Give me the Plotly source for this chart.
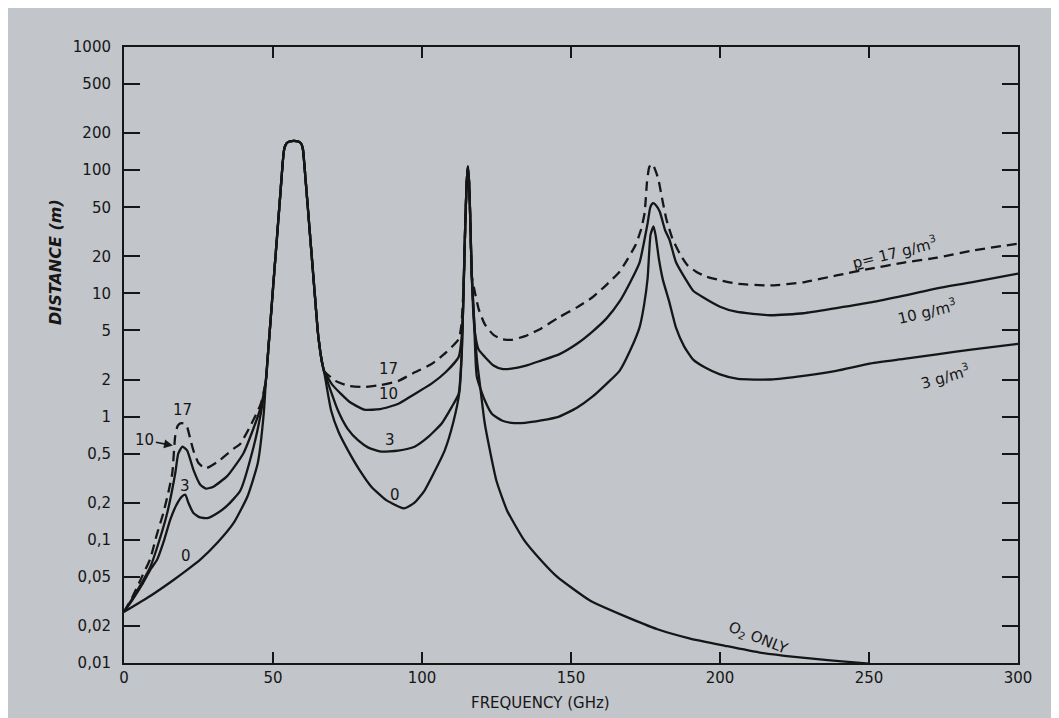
import plotly.graph_objects as go

# ---------------- data ----------------
freq_0 = [0, 8.8, 16.5, 21.2, 25.6, 31.4, 36.8, 41.5, 44.9, 46.9, 47.6, 48.5, 49.5, 50.5, 51.5, 52.5, 53.3, 53.8,
          54.5, 55.5, 57, 58.5, 59.4, 60, 61, 62, 63, 64, 65, 65.7, 66.4, 67.1,
          69.5, 72, 75.2, 79, 83, 88, 94, 97.5, 100.8, 104, 107.6, 110.5, 112.6,
          113.4, 114, 114.5, 115, 115.4, 115.8, 116.2, 116.7, 117.5, 118.5, 119.4, 121, 122.8, 125, 128.5,
          134.2, 140, 145.4, 156.5, 168, 179, 190, 201.7, 213, 225, 237, 250]
dist_0 = [0.026, 0.035, 0.047, 0.057, 0.069, 0.095, 0.137, 0.227, 0.42, 1.06, 1.95, 3.7, 7.6, 15.7, 32, 66, 118, 150,
          165, 171, 173, 171, 165, 150, 80, 40, 20, 10, 5.0, 3.6, 2.8, 2.35,
          1.12, 0.75, 0.53, 0.37, 0.27, 0.21, 0.18, 0.2, 0.25, 0.35, 0.53, 0.9, 1.62,
          3.5, 12, 35, 80, 107, 80, 40, 14, 6, 2.8, 1.85, 0.9, 0.53, 0.3, 0.174,
          0.1, 0.068, 0.05, 0.032, 0.024, 0.0188, 0.0158, 0.0138, 0.0122, 0.0112, 0.0105, 0.0099]

freq_3 = [0, 3, 6, 9, 11.1, 13.5, 15.5, 17.5, 19.5, 20.6, 21.6, 23.3, 25.5, 28, 31.4, 34.7, 39, 43.5, 45.9, 47.6,
          48.5, 49.5, 50.5, 51.5, 52.5, 53.3, 53.8, 54.5, 55.5, 57, 58.5, 59.4, 60, 61, 62, 63, 64, 65, 65.7, 66.4, 67.1,
          71.8, 75, 78.6, 82, 86.3, 92, 97.5, 102, 106.6, 110, 112.3,
          113.3, 114, 114.5, 115, 115.4, 115.8, 116.2, 116.7, 117.5, 118.4, 121.1, 123.5, 126.8, 130, 134.6, 140, 146,
          152, 157.2, 162, 166.3, 170, 173, 174.5, 175.7, 176.7, 177.7, 178.4, 179.5, 180.8, 183, 185.2, 188, 191,
          195, 200, 206, 217, 228, 239, 250.6, 261.7, 272.8, 284.3, 300]
dist_3 = [0.026, 0.033, 0.043, 0.058, 0.069, 0.1, 0.145, 0.19, 0.225, 0.232, 0.2, 0.165, 0.152, 0.15, 0.165, 0.19, 0.25, 0.57, 1.06, 1.95,
          3.7, 7.6, 15.7, 32, 66, 118, 150, 165, 171, 173, 171, 165, 150, 80, 40, 20, 10, 5.0, 3.6, 2.8, 2.35,
          1.12, 0.8, 0.64, 0.56, 0.52, 0.53, 0.57, 0.68, 0.88, 1.2, 1.53,
          3.2, 12, 35, 80, 107, 80, 40, 14, 6, 2.1, 1.35, 1.05, 0.93, 0.89, 0.89, 0.93, 1.0,
          1.18, 1.45, 1.85, 2.35, 3.5, 5.3, 8.0, 13.2, 30, 35, 29.5, 19, 13, 8.5, 5.3, 3.7, 2.9,
          2.5, 2.2, 2.02, 2.0, 2.14, 2.35, 2.7, 2.94, 3.2, 3.5, 3.9]

freq_10 = [0, 3, 6, 8.8, 11, 14.5, 17.2, 18.2, 19.6, 21.2, 23.3, 25.6, 27.5, 30, 34.7, 40, 43, 45.9, 47.6,
           48.5, 49.5, 50.5, 51.5, 52.5, 53.3, 53.8, 54.5, 55.5, 57, 58.5, 59.4, 60, 61, 62, 63, 64, 65, 65.7, 66.4, 67.1,
           70, 72.8, 76, 80.6, 86, 92.1, 97, 103.2, 108, 112.3,
           113.5, 114, 114.5, 115, 115.4, 115.8, 116.2, 116.7, 117.2, 117.7, 119, 121.1, 124, 126.8, 130, 134.6, 140, 146,
           152, 157.2, 162, 166.3, 170, 173, 175.7, 176.6, 177.5, 178.5, 179.8, 181.5, 183.1, 185.2, 188.5, 191,
           194.3, 200, 205.4, 216.9, 228, 239.1, 250.6, 261.7, 272.8, 284.3, 300]
dist_10 = [0.026, 0.034, 0.045, 0.06, 0.085, 0.165, 0.347, 0.5, 0.57, 0.53, 0.37, 0.28, 0.26, 0.27, 0.33, 0.5, 0.75, 1.2, 1.95,
           3.7, 7.6, 15.7, 32, 66, 118, 150, 165, 171, 173, 171, 165, 150, 80, 40, 20, 10, 5.0, 3.6, 2.8, 2.35,
           1.8, 1.53, 1.3, 1.14, 1.15, 1.27, 1.5, 1.85, 2.3, 3.05,
           5.0, 12, 35, 80, 107, 80, 40, 14, 7, 4.9, 3.5, 3.05, 2.6, 2.44, 2.45, 2.58, 2.85, 3.2,
           3.9, 4.9, 6.3, 8.6, 12.5, 17.8, 37, 50, 54, 52, 46, 33, 27, 18, 13, 10.5,
           9.3, 7.8, 7.1, 6.65, 6.9, 7.6, 8.45, 9.6, 11, 12.3, 14.5]

freq_17 = [0, 3, 6, 8.8, 11, 13.2, 15, 16.2, 17.2, 18, 18.9, 20, 21.2, 22.3, 23.3, 25, 27.3, 31.4, 36.8, 39, 42.5, 45.9, 47.6,
           48.5, 49.5, 50.5, 51.5, 52.5, 53.3, 53.8, 54.5, 55.5, 57, 58.5, 59.4, 60, 61, 62, 63, 64, 65, 65.7, 66.4, 67.1,
           71, 75.2, 80.6, 86, 92.1, 97, 103.2, 108, 112.3,
           113.2, 114, 114.5, 115, 115.4, 115.8, 116.2, 116.7, 117.4, 119, 121.1, 124, 126.8, 130, 134.6, 140, 146,
           152, 157.2, 162, 166.3, 169, 171.7, 173.5, 174.7, 175.5, 176.2, 176.9, 177.6, 178.3, 179.3, 180.5, 182, 184,
           186.5, 189, 192, 195, 200, 205.4, 216.9, 228, 239.1, 250.6, 261.7, 272.8, 284.3, 300]
dist_17 = [0.026, 0.035, 0.05, 0.07, 0.11, 0.165, 0.25, 0.347, 0.7, 0.84, 0.88, 0.88, 0.82, 0.65, 0.53, 0.42, 0.38, 0.43, 0.55, 0.6, 0.85, 1.27, 1.95,
           3.7, 7.6, 15.7, 32, 66, 118, 150, 165, 171, 173, 171, 165, 150, 80, 40, 20, 10, 5.0, 3.6, 2.8, 2.35,
           1.95, 1.78, 1.74, 1.8, 1.95, 2.25, 2.67, 3.3, 4.25,
           5.5, 12, 35, 80, 107, 80, 40, 14, 11.2, 7.5, 5.6, 4.6, 4.25, 4.2, 4.5, 5.2, 6.4,
           7.7, 9.3, 11.8, 15, 19, 24.8, 33, 45, 80, 105, 112, 110, 100, 85, 60, 40, 28,
           21, 17, 15, 13.8, 12.8, 12.0, 11.6, 12.3, 14, 15.9, 17.8, 19.5, 22.2, 25.3]

x_ticks = [0, 50, 100, 150, 200, 250, 300]
y_ticks = [0.01, 0.02, 0.05, 0.1, 0.2, 0.5, 1, 2, 5, 10, 20, 50, 100, 200, 500, 1000]
y_tick_text = ["0,01", "0,02", "0,05", "0,1", "0,2", "0,5", "1", "2", "5", "10", "20", "50", "100", "200", "500", "1000"]

# ---------------- figure ----------------
INK = "#161616"
FONT = "DejaVu Sans"
PLOT_L, PLOT_B, PLOT_W, PLOT_H = 124, 663, 894, 616   # plot box in window pixels


def px(xw):
    return (xw - PLOT_L) / PLOT_W


def py(yw):
    return (PLOT_B - yw) / PLOT_H


fig = go.Figure()
line_style = dict(color=INK, width=2.3, shape="spline", smoothing=0.5)
fig.add_trace(go.Scatter(x=freq_0, y=dist_0, mode="lines", line=line_style, name="0"))
fig.add_trace(go.Scatter(x=freq_3, y=dist_3, mode="lines", line=line_style, name="3"))
fig.add_trace(go.Scatter(x=freq_10, y=dist_10, mode="lines", line=line_style, name="10"))
fig.add_trace(go.Scatter(x=freq_17, y=dist_17, mode="lines",
                         line=dict(color=INK, width=2.3, dash="10px,6px", shape="spline", smoothing=0.5), name="17"))

annots = [
    dict(x=19.6, y=0.05, text="17"),
    dict(x=20.6, y=-0.56, text="3"),
    dict(x=20.9, y=-1.13, text="0"),
    dict(x=88.7, y=0.39, text="17"),
    dict(x=88.7, y=0.18, text="10"),
    dict(x=89.4, y=-0.19, text="3"),
    dict(x=91.1, y=-0.64, text="0"),
    dict(x=258.5, y=1.34, text="<u>p</u>= 17 g/m<sup>3</sup>", textangle=-14),
    dict(x=269.5, y=0.86, text="10 g/m<sup>3</sup>", textangle=-13),
    dict(x=275.5, y=0.33, text="3 g/m<sup>3</sup>", textangle=-16),
    dict(x=213, y=-1.80, text="O<sub>2</sub> ONLY", textangle=22),
]
for a in annots:
    fig.add_annotation(xref="x", yref="y", showarrow=False, xanchor="center", yanchor="middle",
                       font=dict(family=FONT, size=15, color=INK), **a)

# "10" label with small arrow
fig.add_annotation(xref="x", yref="y", axref="x", ayref="y",
                   x=16.4, y=-0.235, ax=7.0, ay=-0.19, text="10",
                   showarrow=True, arrowhead=2, arrowsize=1.1, arrowwidth=1.6, arrowcolor=INK,
                   font=dict(family=FONT, size=15, color=INK))

# axis titles
fig.add_annotation(xref="paper", yref="paper", x=px(55), y=py(262), xanchor="center", yanchor="middle",
                   text="<b><i>DISTANCE (m)</i></b>", textangle=-90, showarrow=False,
                   font=dict(family=FONT, size=16, color=INK))
fig.add_annotation(xref="paper", yref="paper", x=px(540), y=py(703), xanchor="center", yanchor="middle",
                   text="FREQUENCY (GHz)", showarrow=False,
                   font=dict(family=FONT, size=15, color=INK))

# the page body adds an 8 px white margin at top/left (like the photo's border)
fig.update_layout(
    width=1051, height=710,
    margin=dict(l=116, r=41, t=39, b=55),
    paper_bgcolor="#c2c5ca", plot_bgcolor="#c2c5ca",
    showlegend=False,
    font=dict(family=FONT, size=15, color=INK),
)
fig.update_xaxes(range=[0, 300], tickvals=x_ticks, ticks="inside", ticklen=11, tickwidth=2,
                 tickcolor=INK, showline=True, linecolor=INK, linewidth=2, mirror="ticks",
                 showgrid=False, zeroline=False, tickfont=dict(family=FONT, size=15, color=INK))
fig.update_yaxes(type="log", range=[-2, 3], tickvals=y_ticks, ticktext=y_tick_text,
                 ticks="inside", ticklen=16, tickwidth=2, tickcolor=INK,
                 showline=True, linecolor=INK, linewidth=2, mirror="ticks",
                 showgrid=False, zeroline=False, ticklabelstandoff=8,
                 tickfont=dict(family=FONT, size=15, color=INK))

fig.write_html("out.html")
